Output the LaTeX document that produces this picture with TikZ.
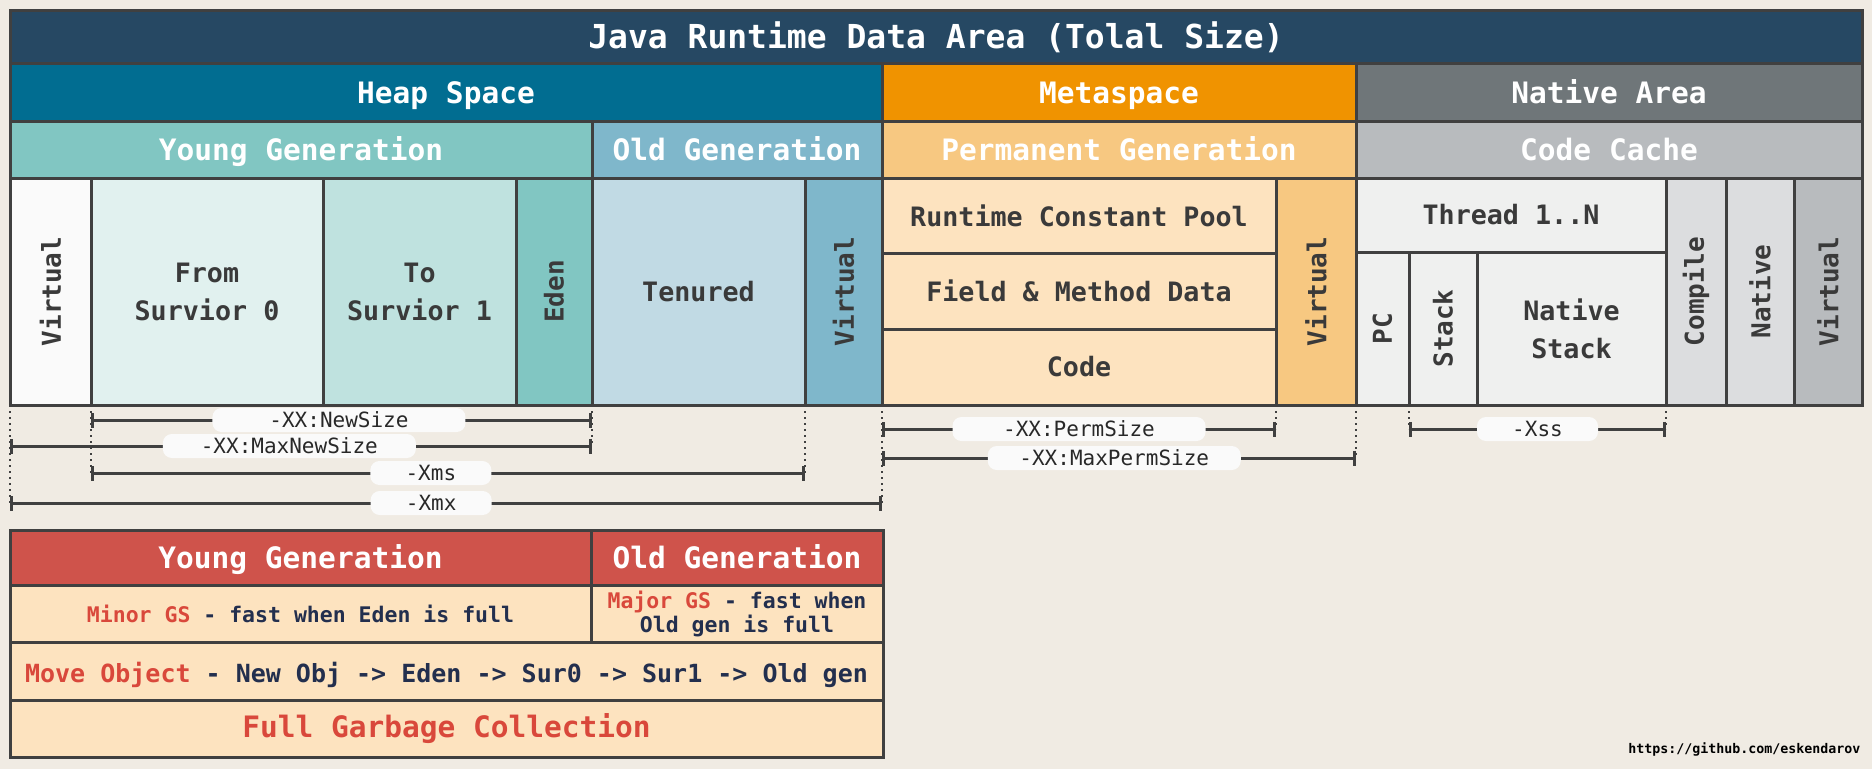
\documentclass[tikz,border=0pt]{standalone}
\usepackage{fontspec}
\setmainfont{DejaVu Sans Mono}
\usepackage{graphicx}
\usetikzlibrary{arrows.meta}

% font sizes (1pt = 1px of the picture)
\newcommand{\titlefont}{\fontsize{33}{38}\selectfont\bfseries}
\newcommand{\headfont}{\fontsize{29.5}{34}\selectfont\bfseries}
\newcommand{\cellfont}{\fontsize{26.7}{38}\selectfont\bfseries}
\newcommand{\vertfont}{\fontsize{26}{30}\selectfont\bfseries}
\newcommand{\dimfont}{\fontsize{21}{24}\selectfont}
\newcommand{\smallfont}{\fontsize{21.5}{24}\selectfont\bfseries}
\newcommand{\movefont}{\fontsize{25}{29}\selectfont\bfseries}
\newcommand{\markfont}{\fontsize{13.3}{15}\selectfont\bfseries}

\begin{document}
\begin{tikzpicture}[
  x=1pt, y=-1pt, % pixel units, y grows downward
  wh/.style 2 args={minimum width=#1pt, minimum height=#2pt}, % cell size
  cell/.style={draw=lineColor, line width=3pt, anchor=north west,
    inner sep=0pt, outer sep=0pt, align=center, text=textColor, font=\cellfont},
  head/.style={cell, text=white, font=\headfont, text height=25pt, text depth=3pt}, % coloured header bars
  guide/.style={draw=lineColor, line width=2pt, dash pattern=on 2pt off 4pt},
  dim/.style={draw=lineColor, line width=3pt, {Bar[width=15pt]}-{Bar[width=15pt]}},
  dimlabel/.style={fill=labelColor, rounded corners=9pt, inner sep=0pt,
    minimum height=24pt, minimum width=253pt, font=\dimfont, text=dimText},
  shortlabel/.style={dimlabel, minimum width=121pt}
]

% Define colors for styling
\definecolor{bgColor}{RGB}{240,235,227}      % page background
\definecolor{lineColor}{RGB}{64,64,64}       % borders
\definecolor{textColor}{RGB}{58,58,58}       % cell text
\definecolor{dimText}{RGB}{40,40,40}         % dimension text
\definecolor{titleColor}{RGB}{38,72,99}      % title bar
\definecolor{heapColor}{RGB}{1,109,145}      % heap space
\definecolor{metaColor}{RGB}{240,147,0}      % metaspace
\definecolor{nativeColor}{RGB}{111,118,121}  % native area
\definecolor{youngColor}{RGB}{129,198,194}   % young generation, eden
\definecolor{oldColor}{RGB}{127,183,203}     % old generation
\definecolor{permColor}{RGB}{247,200,129}    % permanent generation
\definecolor{cacheColor}{RGB}{184,187,190}   % code cache
\definecolor{virtColor}{RGB}{250,250,250}    % young virtual
\definecolor{fromColor}{RGB}{225,241,239}    % from survivor
\definecolor{toColor}{RGB}{191,226,223}      % to survivor
\definecolor{tenuredColor}{RGB}{193,218,228} % tenured
\definecolor{metaCell}{RGB}{253,227,191}     % light orange cells
\definecolor{threadColor}{RGB}{239,240,239}  % thread cells
\definecolor{compileColor}{RGB}{220,221,223} % compile, native
\definecolor{tableHead}{RGB}{207,83,75}      % gc table header
\definecolor{redText}{RGB}{217,72,59}
\definecolor{navyText}{RGB}{35,47,78}
\definecolor{labelColor}{RGB}{250,250,250}   % dimension labels

\fill[bgColor] (0,0) rectangle (1872,769);
\useasboundingbox (0,0) rectangle (1872,769);

% Title and areas
\node[head, fill=titleColor, wh={1852}{53}, font=\titlefont, text height=27pt, text depth=3pt] (title) at (10,10) {Java Runtime Data Area (Tolal Size)};
\node[head, fill=heapColor, wh={872}{58}] (heap) at (10,63) {Heap Space};
\node[head, fill=metaColor, wh={474}{58}] (meta) at (882,63) {Metaspace};
\node[head, fill=nativeColor, wh={506}{58}] (native) at (1356,63) {Native Area};

% Generations
\node[head, fill=youngColor, wh={582}{57}] (young) at (10,121) {Young Generation};
\node[head, fill=oldColor, wh={290}{57}] (old) at (592,121) {Old Generation};
\node[head, fill=permColor, wh={474}{57}] (perm) at (882,121) {Permanent Generation};
\node[head, fill=cacheColor, wh={506}{57}] (cache) at (1356,121) {Code Cache};

% Heap cells
\node[cell, fill=virtColor, wh={81}{227}, font=\vertfont] (virtY) at (10,178) {\rotatebox{90}{Virtual}};
\node[cell, fill=fromColor, wh={232}{227}] (from) at (91,178) {From\\Survior 0};
\node[cell, fill=toColor, wh={193}{227}] (to) at (323,178) {To\\Survior 1};
\node[cell, fill=youngColor, wh={76}{227}, font=\vertfont] (eden) at (516,178) {\rotatebox{90}{Eden}};
\node[cell, fill=tenuredColor, wh={213}{227}] (tenured) at (592,178) {Tenured};
\node[cell, fill=oldColor, wh={77}{227}, font=\vertfont] (virtO) at (805,178) {\rotatebox{90}{Virtual}};

% Metaspace cells
\node[cell, fill=metaCell, wh={394}{75}] (rcp) at (882,178) {Runtime Constant Pool};
\node[cell, fill=metaCell, wh={394}{76}] (fmd) at (882,253) {Field \& Method Data};
\node[cell, fill=metaCell, wh={394}{76}] (code) at (882,329) {Code};
\node[cell, fill=permColor, wh={80}{227}, font=\vertfont] (virtP) at (1276,178) {\rotatebox{90}{Virtual}};

% Code cache cells
\node[cell, fill=threadColor, wh={310}{74}] (thread) at (1356,178) {Thread 1..N};
\node[cell, fill=threadColor, wh={53}{153}, font=\vertfont] (pc) at (1356,252) {\rotatebox{90}{PC}};
\node[cell, fill=threadColor, wh={68}{153}, font=\vertfont] (stack) at (1409,252) {\rotatebox{90}{Stack}};
\node[cell, fill=threadColor, wh={189}{153}] (nstack) at (1477,252) {Native\\Stack};
\node[cell, fill=compileColor, wh={60}{227}, font=\vertfont] (compile) at (1666,178) {\rotatebox{90}{Compile}};
\node[cell, fill=compileColor, wh={68}{227}, font=\vertfont] (nativeC) at (1726,178) {\rotatebox{90}{Native}};
\node[cell, fill=cacheColor, wh={68}{227}, font=\vertfont] (virtN) at (1794,178) {\rotatebox{90}{Virtual}};

% Dimension ends
\coordinate (newL) at (91,420);      \coordinate (newR) at (592,420);
\coordinate (maxnewL) at (10,446);   \coordinate (maxnewR) at (592,446);
\coordinate (xmsL) at (91,473);      \coordinate (xmsR) at (805,473);
\coordinate (xmxL) at (10,503);      \coordinate (xmxR) at (882,503);
\coordinate (permL) at (882,429);    \coordinate (permR) at (1276,429);
\coordinate (maxpermL) at (882,458); \coordinate (maxpermR) at (1356,458);
\coordinate (xssL) at (1409,429);    \coordinate (xssR) at (1666,429);

% Guide lines
\draw[guide] (virtY.south west) -- (xmxL);
\draw[guide] (from.south west) -- (xmsL);
\draw[guide] (tenured.south west) -- (maxnewR);
\draw[guide] (virtO.south west) -- (xmsR);
\draw[guide] (code.south west) -- (xmxR);
\draw[guide] (virtP.south west) -- (permR);
\draw[guide] (virtP.south east) -- (maxpermR);
\draw[guide] (stack.south west) -- (xssL);
\draw[guide] (nstack.south east) -- (xssR);

% Dimension lines
\draw[dim] (newL) -- node[dimlabel, pos=0.495] (newLbl) {-XX:NewSize} (newR);
\draw[dim] (maxnewL) -- node[dimlabel, pos=0.48] (maxnewLbl) {-XX:MaxNewSize} (maxnewR);
\draw[dim] (xmsL) -- node[shortlabel, pos=0.476] (xmsLbl) {-Xms} (xmsR);
\draw[dim] (xmxL) -- node[shortlabel, pos=0.483] (xmxLbl) {-Xmx} (xmxR);
\draw[dim] (permL) -- node[dimlabel, pos=0.5] (permLbl) {-XX:PermSize} (permR);
\draw[dim] (maxpermL) -- node[dimlabel, pos=0.49] (maxpermLbl) {-XX:MaxPermSize} (maxpermR);
\draw[dim] (xssL) -- node[shortlabel, pos=0.5] (xssLbl) {-Xss} (xssR);

% Garbage collection table
\node[head, fill=tableHead, wh={581}{55}] (gcYoung) at (10,530) {Young Generation};
\node[head, fill=tableHead, wh={292}{55}] (gcOld) at (591,530) {Old Generation};
\node[cell, fill=metaCell, wh={581}{57}, font=\smallfont, text=navyText] (minor) at (10,585) {\textcolor{redText}{Minor GS} - fast when Eden is full};
\node[cell, fill=metaCell, wh={292}{57}, font=\smallfont, text=navyText] (major) at (591,585) {\textcolor{redText}{Major GS} - fast when\\Old gen is full};
\node[cell, fill=metaCell, wh={873}{58}, font=\movefont, text=navyText, text height=26pt, text depth=3pt] (move) at (10,642) {\textcolor{redText}{Move Object} - New Obj -> Eden -> Sur0 -> Sur1 -> Old gen};
\node[head, fill=metaCell, wh={873}{57}, text=redText, text height=22pt, text depth=5pt] (fullgc) at (10,700) {Full Garbage Collection};

% Credit
\node[anchor=east, font=\markfont, text=black] (credit) at (1864,749) {https://github.com/eskendarov};

\end{tikzpicture}
\end{document}
